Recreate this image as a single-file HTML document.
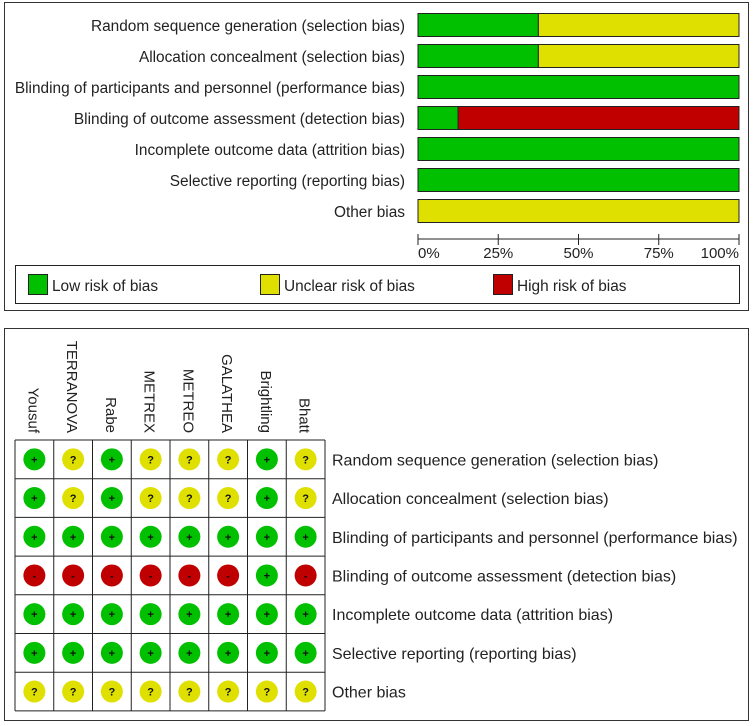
<!DOCTYPE html>
<html><head><meta charset="utf-8"><style>
body{margin:0;background:#fff;width:753px;height:726px;overflow:hidden}
svg{display:block;font-family:"Liberation Sans",Arial,sans-serif}
</style></head><body>
<svg id="c" width="753" height="726"></svg>
<script>
const domains=["Random sequence generation (selection bias)","Allocation concealment (selection bias)","Blinding of participants and personnel (performance bias)","Blinding of outcome assessment (detection bias)","Incomplete outcome data (attrition bias)","Selective reporting (reporting bias)","Other bias"];
const studies=["Yousuf","TERRANOVA","Rabe","METREX","METREO","GALATHEA","Brightling","Bhatt"];
const judgements=[
"+?+???+?",
"+?+???+?",
"++++++++",
"------+-",
"++++++++",
"++++++++",
"????????"];
const ticks=[0,25,50,75,100];
const col={"+":"#00c000","?":"#e0e000","-":"#c00000"};
const NS="http://www.w3.org/2000/svg";
const svg=document.getElementById('c');
function mk(t,a,p){const e=document.createElementNS(NS,t);for(const k in a)e.setAttribute(k,a[k]);(p||svg).appendChild(e);return e;}
let f1=mk('rect',{x:4.5,y:2.5,width:744,height:308,fill:'none',stroke:'#333'});

let f2=mk('rect',{x:4.5,y:328.5,width:744,height:392,fill:'none',stroke:'#333'});

const x0=418,x1=739;
const xs=v=>x0+(x1-x0)*v/100;
const by=i=>13+i*31;
domains.forEach((d,i)=>{
  const row=judgements[i];const n=row.length;
  const cnt={"+":0,"?":0,"-":0};for(const ch of row)cnt[ch]++;
  let acc=0;
  ["+","?","-"].forEach(k=>{
    if(!cnt[k])return;
    const p=cnt[k]/n*100;
    const r=mk('rect',{x:xs(acc),y:by(i)+0.5,width:xs(acc+p)-xs(acc),height:23,fill:col[k],stroke:'#222','stroke-width':1});
    
    acc+=p;
  });
  const t=mk('text',{x:405,y:by(i)+18,'text-anchor':'end','font-size':15.4,fill:'#222'});
  t.textContent=d;
});
const ax=mk('line',{x1:x0,x2:x1,y1:239,y2:239,stroke:'#222'});

ticks.forEach(v=>{
  const l=mk('line',{x1:xs(v),x2:xs(v),y1:234,y2:245,stroke:'#222'});
  
  const anchor=v===0?'start':(v===100?'end':'middle');
  const t=mk('text',{x:xs(v),y:258,'text-anchor':anchor,'font-size':15,fill:'#222'});
  t.textContent=v+'%';
});
const lg=mk('rect',{x:15.5,y:265.5,width:724,height:38,fill:'#fff',stroke:'#222'});

[["+","Low risk of bias",28],["?","Unclear risk of bias",260],["-","High risk of bias",493]].forEach(([k,lab,x])=>{
  const s=mk('rect',{x:x+0.5,y:274.5,width:19,height:20,fill:col[k],stroke:'#222'});
  
  const t=mk('text',{x:x+24,y:291,'font-size':15.4,fill:'#222'});
  t.textContent=lab;
});
const gx=15,gy=440,cw=38.75,rh=38.7;
studies.forEach((s,j)=>{
  const cx=gx+cw*(j+0.5)-6;
  const t=mk('text',{x:0,y:0,'text-anchor':'end','font-size':15,fill:'#222',transform:`translate(${cx},433) rotate(90)`});
  t.textContent=s;
});
domains.forEach((d,i)=>{
  const t=mk('text',{x:332,y:gy+rh*(i+0.5)+6,'font-size':16,fill:'#222'});
  t.textContent=d;
  [...judgements[i]].forEach((k,j)=>{
    const cx=gx+cw*(j+0.5),cy=gy+rh*(i+0.5);
    const c=mk('circle',{cx:cx,cy:cy,r:11,fill:col[k]});
    
    const g=mk('text',{x:cx,y:cy+4,'text-anchor':'middle','font-size':11,'font-weight':'bold',fill:'#111'});
    g.textContent=k;
  });
});
for(let j=0;j<=studies.length;j++){const l=mk('line',{x1:gx+cw*j,x2:gx+cw*j,y1:gy,y2:gy+rh*domains.length,stroke:'#222'});}
for(let i=0;i<=domains.length;i++){const l=mk('line',{x1:gx,x2:gx+cw*studies.length,y1:gy+rh*i,y2:gy+rh*i,stroke:'#222'});}
</script>
</body></html>
